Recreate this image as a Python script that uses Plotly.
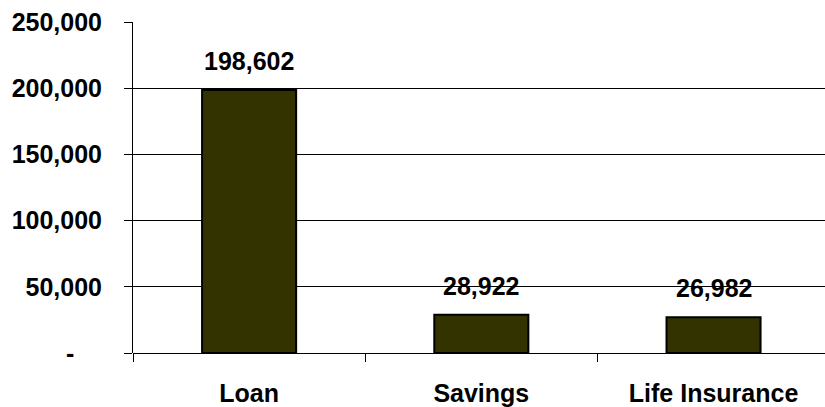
import plotly.graph_objects as go

categories = ["Loan", "Savings", "Life Insurance"]
values = [198602, 28922, 26982]
value_labels = ["198,602", "28,922", "26,982"]
y_tickvals = [0, 50000, 100000, 150000, 200000, 250000]
y_ticktext = ["-\u00a0\u00a0\u00a0\u00a0", "50,000", "100,000", "150,000", "200,000", "250,000"]

FONT = "Arial, Liberation Sans, sans-serif"
fig = go.Figure()
fig.add_trace(go.Bar(
    x=categories, y=values, width=0.405,
    marker=dict(color="#333300", line=dict(color="#000000", width=2)),
    hoverinfo="skip",
))
for c, v, t in zip(categories, values, value_labels):
    fig.add_annotation(x=c, y=v, text=f"<b>{t}</b>", showarrow=False,
                       yanchor="middle", yshift=29,
                       font=dict(family=FONT, size=25, color="#000000"))

fig.update_layout(
    width=825, height=407,
    margin=dict(l=133, r=0, t=22, b=54),
    paper_bgcolor="white", plot_bgcolor="white",
    showlegend=False,
    font=dict(family=FONT, size=25, color="#000000"),
)
fig.update_xaxes(
    type="category", range=[-0.5, 2.48],
    tickson="boundaries", ticks="outside", ticklen=8, tickcolor="#000000", tickwidth=1,
    showline=False, showgrid=False, zeroline=False,
    tickfont=dict(family=FONT, size=25, color="#000000", weight="bold"),
    ticklabelstandoff=23,
)
fig.update_yaxes(
    range=[0, 250000], tickvals=y_tickvals, ticktext=y_ticktext,
    ticks="outside", ticklen=8, tickcolor="#000000", tickwidth=1,
    showline=True, linecolor="#000000", linewidth=1,
    showgrid=True, gridcolor="#000000", gridwidth=1,
    zeroline=True, zerolinecolor="#000000", zerolinewidth=1,
    tickfont=dict(family=FONT, size=25, color="#000000", weight="bold"),
    ticklabelstandoff=17,
)
fig.write_html("out.html")
